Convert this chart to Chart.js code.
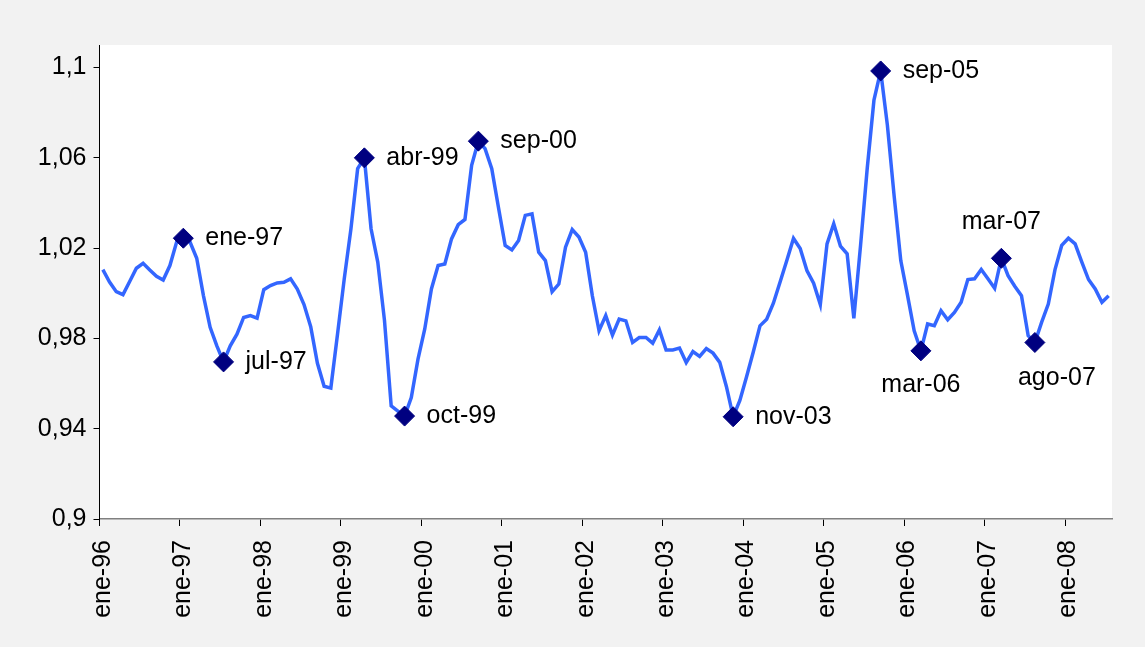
<!DOCTYPE html>
<html>
<head>
<meta charset="utf-8">
<script src="https://cdn.jsdelivr.net/npm/chart.js@4.4.0/dist/chart.umd.min.js"></script>
<style>
  html, body { margin: 0; padding: 0; background: #f2f2f2; }
  canvas { display: block; }
</style>
</head>
<body>
<canvas id="c" width="1145" height="647"></canvas>
<script>
// ---- data ----
const monthNames = ['ene','feb','mar','abr','may','jun','jul','ago','sep','oct','nov','dic'];
const yearSuffixes = ['96','97','98','99','00','01','02','03','04','05','06','07','08'];
const categories = [];
yearSuffixes.forEach(y => monthNames.forEach(m => categories.push(m + '-' + y)));
categories.length = 151; // ene-96 .. jul-08

const ratio = [
  1.0105, 1.0050, 1.0007, 0.9994, 1.0052, 1.0111, 1.0133, 1.0103, 1.0075, 1.0059, 1.0123, 1.0227, // 1996
  1.0244, 1.0227, 1.0155, 0.9990, 0.9849, 0.9767, 0.9696, 0.9767, 0.9819, 0.9893, 0.9901, 0.9890, // 1997
  1.0016, 1.0034, 1.0046, 1.0049, 1.0064, 1.0019, 0.9950, 0.9852, 0.9690, 0.9588, 0.9580, 0.9820, // 1998
  1.0064, 1.0286, 1.0552, 1.0600, 1.0286, 1.0138, 0.9880, 0.9501, 0.9478, 0.9456, 0.9538, 0.9708, // 1999
  0.9841, 1.0019, 1.0123, 1.0130, 1.0241, 1.0304, 1.0327, 1.0567, 1.0674, 1.0641, 1.0552, 1.0380, // 2000
  1.0212, 1.0192, 1.0234, 1.0345, 1.0352, 1.0182, 1.0145, 1.0007, 1.0041, 1.0204, 1.0282, 1.0249, // 2001
  1.0182, 0.9989, 0.9834, 0.9901, 0.9815, 0.9886, 0.9878, 0.9782, 0.9804, 0.9804, 0.9779, 0.9838, // 2002
  0.9749, 0.9749, 0.9757, 0.9693, 0.9742, 0.9720, 0.9755, 0.9735, 0.9694, 0.9586, 0.9453, 0.9525, // 2003
  0.9630, 0.9740, 0.9856, 0.9885, 0.9956, 1.0050, 1.0145, 1.0243, 1.0198, 1.0101, 1.0045, 0.9950, // 2004
  1.0219, 1.0308, 1.0209, 1.0175, 0.9889, 1.0212, 1.0555, 1.0856, 1.0985, 1.0745, 1.0434, 1.0145, // 2005
  0.9992, 0.9834, 0.9745, 0.9864, 0.9856, 0.9923, 0.9883, 0.9915, 0.9960, 1.0061, 1.0064, 1.0105, // 2006
  1.0064, 1.0022, 1.0155, 1.0078, 1.0031, 0.9989, 0.9812, 0.9782, 0.9871, 0.9952, 1.0105, 1.0212, // 2007
  1.0244, 1.0219, 1.0138, 1.0061, 1.0019, 0.9960, 0.9989                                          // 2008
];

const yTickValues = [0.9, 0.94, 0.98, 1.02, 1.06, 1.1];
const markedPoints = ['ene-97','jul-97','abr-99','oct-99','sep-00','nov-03','sep-05','mar-06','mar-07','ago-07'];
const markedPlacement = ['right','right','right','right','right','right','right','below','above','belowRight'];

// ---- plugins ----
const backgroundPlugin = {
  id: 'bg',
  beforeDraw(chart) {
    const { ctx, chartArea: a } = chart;
    ctx.save();
    ctx.fillStyle = '#f2f2f2';
    ctx.fillRect(0, 0, chart.width, chart.height);
    ctx.fillStyle = '#ffffff';
    ctx.fillRect(a.left, a.top, a.right - a.left, a.bottom - a.top);
    ctx.restore();
  }
};

const markLabelPlugin = {
  id: 'markLabels',
  afterDatasetsDraw(chart) {
    const meta = chart.getDatasetMeta(0);
    const ctx = chart.ctx;
    ctx.save();
    ctx.font = "25px 'Liberation Sans', Arial, sans-serif";
    ctx.fillStyle = '#000000';
    ctx.textBaseline = 'middle';
    markedPoints.forEach((lab, k) => {
      const i = categories.indexOf(lab);
      const p = meta.data[i];
      if (!p) return;
      let x = p.x, y = p.y;
      const pos = markedPlacement[k];
      if (pos === 'right') { ctx.textAlign = 'left'; x += 22; }
      else if (pos === 'below') { ctx.textAlign = 'center'; y += 34; }
      else if (pos === 'above') { ctx.textAlign = 'center'; y -= 36; }
      else if (pos === 'belowRight') { ctx.textAlign = 'center'; x += 22; y += 36; }
      ctx.fillText(lab, x, y);
    });
    ctx.restore();
  }
};

Chart.defaults.font.family = "'Liberation Sans', Arial, sans-serif";
Chart.defaults.font.size = 25;
Chart.defaults.color = '#000000';

new Chart(document.getElementById('c'), {
  type: 'line',
  data: {
    labels: categories,
    datasets: [{
      data: ratio,
      borderColor: '#3366ff',
      borderWidth: 3.5,
      tension: 0,
      fill: false,
      pointStyle: 'rectRot',
      pointRadius: ctx => markedPoints.includes(categories[ctx.dataIndex]) ? 10 : 0,
      pointHoverRadius: ctx => markedPoints.includes(categories[ctx.dataIndex]) ? 10 : 0,
      pointBackgroundColor: '#000080',
      pointBorderColor: '#000080',
      pointBorderWidth: 1,
      clip: false
    }]
  },
  options: {
    responsive: false,
    animation: false,
    devicePixelRatio: 1,
    layout: { padding: { top: 45, right: 33, left: 0, bottom: 0 } },
    plugins: { legend: { display: false }, tooltip: { enabled: false } },
    scales: {
      x: {
        type: 'category',
        offset: true,
        afterFit(scale) {
          scale.height = 128;
          scale.paddingLeft = 0;
          scale.paddingRight = 0;
        },
        grid: {
          offset: true,
          drawOnChartArea: false,
          drawTicks: true,
          tickLength: 7,
          lineWidth: 1,
          color: ctx => (ctx.index !== undefined && ctx.index % 12 === 0) ? '#000000' : 'rgba(0,0,0,0)'
        },
        border: { display: true, color: '#808080', width: 1.5 },
        ticks: {
          autoSkip: false,
          maxRotation: 90,
          minRotation: 90,
          padding: 14,
          font: { size: 25 },
          color: '#000000',
          callback: (val, idx) => idx % 12 === 0 ? categories[idx] : ''
        }
      },
      y: {
        min: 0.9,
        max: 1.11,
        afterFit(scale) {
          scale.width = 99.5;
          scale.paddingTop = 0;
          scale.paddingBottom = 0;
        },
        afterBuildTicks(scale) {
          scale.ticks = yTickValues.map(v => ({ value: v }));
        },
        grid: {
          drawOnChartArea: false,
          drawTicks: true,
          tickLength: 6,
          color: '#000000'
        },
        border: { display: true, color: '#000000', width: 1 },
        ticks: {
          padding: 7,
          font: { size: 25 },
          color: '#000000',
          callback: v => String(Number(v.toFixed(2))).replace('.', ',')
        }
      }
    }
  },
  plugins: [backgroundPlugin, markLabelPlugin]
});
</script>
</body>
</html>
